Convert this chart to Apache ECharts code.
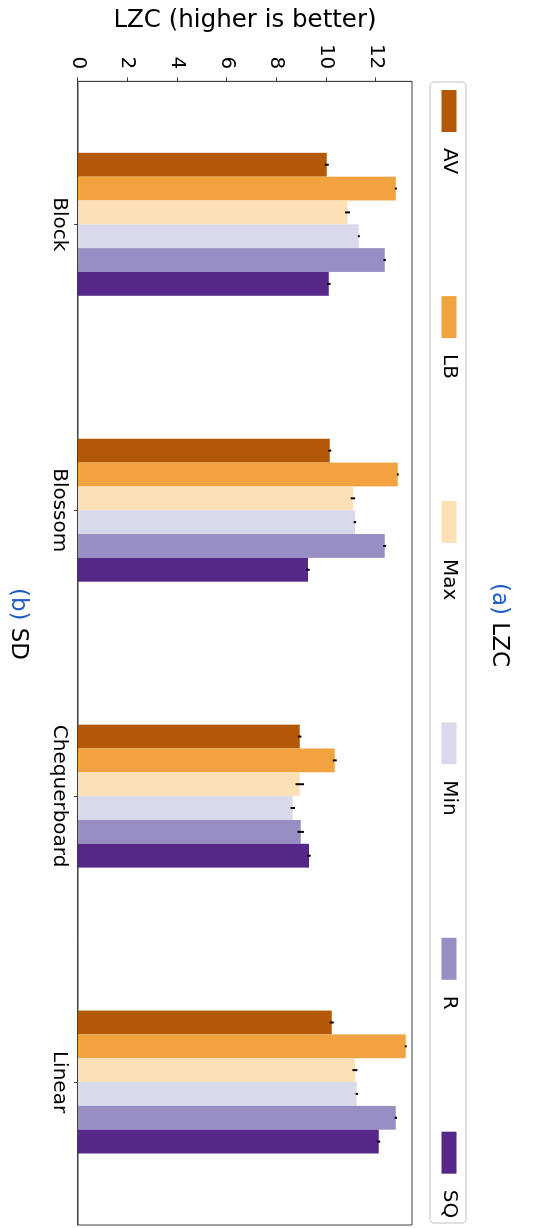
<!DOCTYPE html>
<html>
<head>
<meta charset="utf-8">
<script src="https://cdn.jsdelivr.net/npm/echarts@6/dist/echarts.min.js"></script>
<style>
  html, body { margin: 0; padding: 0; background: #fff; overflow: hidden; }
  /* the figure is laid out landscape and turned a quarter clockwise onto the portrait page */
  #chart {
    position: absolute; left: 0; top: 0;
    width: 1228px; height: 537px;
    transform-origin: 0 0;
    transform: translate(537px, 0) rotate(90deg);
  }
</style>
</head>
<body>
<div id="chart"></div>
<script>
// LZC per pattern and method (mean, with spread shown as error bars)
const categories = ['Block', 'Blossom', 'Chequerboard', 'Linear'];
const methods = ['AV', 'LB', 'Max', 'Min', 'R', 'SQ'];
const colors = ['#b35806', '#f1a340', '#fee0b6', '#d8daeb', '#998ec3', '#542788'];

const avValues  = [10.02, 10.14, 8.93, 10.22];
const lbValues  = [12.80, 12.88, 10.34, 13.20];
const maxValues = [10.85, 11.07, 8.93, 11.15];
const minValues = [11.31, 11.15, 8.65, 11.23];
const rValues   = [12.35, 12.35, 8.97, 12.80];
const sqValues  = [10.10, 9.26, 9.30, 12.11];

const avErr  = [0.08, 0.06, 0.07, 0.08];
const lbErr  = [0.04, 0.04, 0.08, 0.04];
const maxErr = [0.10, 0.09, 0.17, 0.10];
const minErr = [0.04, 0.05, 0.09, 0.05];
const rErr   = [0.05, 0.06, 0.13, 0.05];
const sqErr  = [0.07, 0.07, 0.07, 0.06];

const valueTicks = [0, 2, 4, 6, 8, 10, 12];

const allValues = [avValues, lbValues, maxValues, minValues, rValues, sqValues];
const allErrors = [avErr, lbErr, maxErr, minErr, rErr, sqErr];

const FONT = 'DejaVu Sans';
const AXIS_COLOR = '#404040';

const barSeries = methods.map((name, k) => ({
  name: name,
  type: 'bar',
  data: allValues[k],
  barGap: '0%',
  barCategoryGap: '50%',
  itemStyle: { color: colors[k] },
  z: 2
}));

// one row per bar: [category index, low, high, method index]
const errorRows = [];
allValues.forEach((vals, k) => {
  vals.forEach((v, ci) => {
    const e = allErrors[k][ci];
    errorRows.push([ci, v - e, v + e, k]);
  });
});

const errorSeries = {
  type: 'custom',
  data: errorRows,
  encode: { x: 0, y: [1, 2] },
  z: 5,
  silent: true,
  renderItem: function (params, api) {
    const ci = api.value(0);
    const k = api.value(3);
    const band = api.size([1, 0])[0];
    const off = (k - (methods.length - 1) / 2) * band / (methods.length * 2);
    const p1 = api.coord([ci, api.value(1)]);
    const p2 = api.coord([ci, api.value(2)]);
    return {
      type: 'line',
      shape: { x1: p1[0] + off, y1: p1[1], x2: p2[0] + off, y2: p2[1] },
      style: { stroke: '#000', lineWidth: 2 }
    };
  }
};

const chart = echarts.init(document.getElementById('chart'), null, { renderer: 'canvas' });

chart.setOption({
  animation: false,
  backgroundColor: '#fff',
  textStyle: { fontFamily: FONT },
  grid: {
    left: 80, right: 3, top: 125, bottom: 78,
    show: true, borderColor: AXIS_COLOR, borderWidth: 1, backgroundColor: 'transparent'
  },
  legend: {
    data: methods,
    left: 90,
    top: 78,
    itemWidth: 42,
    itemHeight: 15,
    itemGap: 122,
    icon: 'rect',
    padding: 0,
    textStyle: { fontFamily: FONT, fontSize: 20, color: '#000', padding: [0, 0, 0, 11], lineHeight: 20 }
  },
  xAxis: {
    type: 'category',
    data: categories,
    axisLine: { show: true, lineStyle: { color: AXIS_COLOR, width: 1 } },
    axisTick: { show: true, alignWithLabel: true, length: 4, lineStyle: { color: AXIS_COLOR } },
    axisLabel: { fontFamily: FONT, fontSize: 20, color: '#000', margin: 9 }
  },
  yAxis: {
    type: 'value',
    min: 0,
    max: 13.45,
    interval: 2,
    name: 'LZC (higher is better)',
    nameLocation: 'middle',
    nameRotate: 90,
    nameGap: 40,
    nameTextStyle: { fontFamily: FONT, fontSize: 24.5, color: '#000' },
    axisLine: { show: true, lineStyle: { color: AXIS_COLOR, width: 1 } },
    axisTick: { show: true, length: 4, lineStyle: { color: AXIS_COLOR }, customValues: valueTicks },
    axisLabel: { fontFamily: FONT, fontSize: 20, color: '#000', margin: 12, customValues: valueTicks },
    splitLine: { show: false }
  },
  graphic: [
    {
      type: 'rect',
      z: -1,
      shape: { x: 82, y: 71, width: 1141, height: 36, r: 4 },
      style: { fill: '#fff', stroke: '#d6d6d6', lineWidth: 1.5 }
    },
    {
      type: 'text',
      x: 625, y: 38,
      style: {
        text: '{p|(a)} LZC',
        align: 'center', verticalAlign: 'middle',
        font: '23px "DejaVu Sans"', fill: '#000',
        rich: { p: { fill: '#1f5cc4', font: '23px "DejaVu Sans"' } }
      }
    },
    {
      type: 'text',
      x: 624, y: 519,
      style: {
        text: '{p|(b)} SD',
        align: 'center', verticalAlign: 'middle',
        font: '23px "DejaVu Sans"', fill: '#000',
        rich: { p: { fill: '#1f5cc4', font: '23px "DejaVu Sans"' } }
      }
    }
  ],
  series: barSeries.concat([errorSeries])
});
</script>
</body>
</html>
